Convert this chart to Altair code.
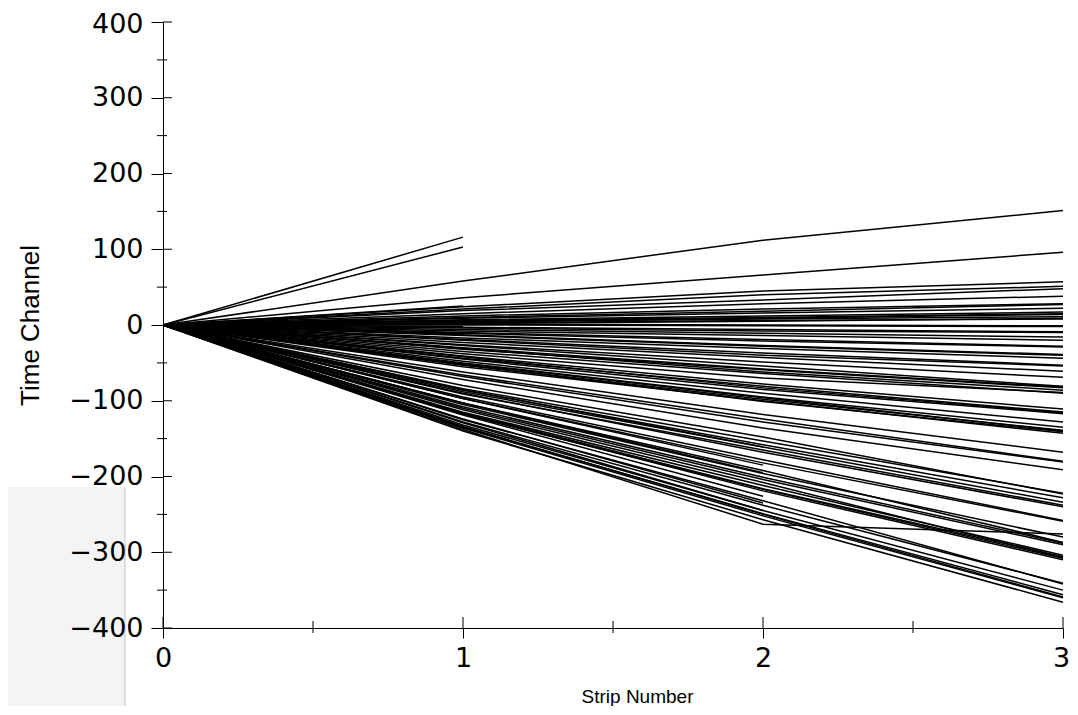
import altair as alt
import pandas as pd

# Strip positions
strips = [0, 1, 2, 3]

# Tracks reaching strip 3: time channel at strips 1, 2, 3 (strip 0 is 0)
full_t1 = [58, 36, 24, 21, 19, 15, 12, 9, 7, 6, 4, 3, 1, -3, -6, -8, -11, -14, -17, -19,
           -23, -26, -30, -32, -31, -35, -41, -44, -42, -48, -50, -53, -52, -55, -62, -68,
           -72, -84, -86, -88, -91, -90, -97, -138, -105, -108, -110, -115, -116, -118,
           -117, -128, -132, -135, -136, -140,
           10, 5, 2, 0, -4, -10, -13, -20, -27, -38, -45, -51, -66, -80, -95, -103, -112,
           -125, -134]
full_t2 = [112, 66, 45, 40, 33, 28, 21, 16, 12, 10, 8, 6, 0, -6, -11, -14, -21, -28, -31, -37,
           -43, -49, -58, -59, -62, -64, -78, -81, -83, -90, -95, -98, -101, -100, -118, -128,
           -136, -153, -158, -161, -165, -168, -182, -263, -196, -201, -204, -212, -216, -217,
           -219, -238, -245, -249, -252, -257,
           18, 9, 5, -1, -8, -19, -27, -40, -54, -70, -85, -96, -124, -148, -178, -192, -208,
           -232, -250]
full_t3 = [151, 96, 57, 51, 48, 38, 28, 22, 17, 15, 11, 8, -1, -9, -16, -20, -29, -40, -44, -53,
           -61, -69, -82, -83, -86, -90, -111, -115, -116, -128, -135, -139, -141, -143, -168, -181,
           -191, -222, -228, -234, -238, -240, -259, -276, -280, -288, -290, -304, -306, -308,
           -310, -341, -350, -356, -360, -366,
           27, 14, 9, -2, -10, -28, -39, -54, -81, -89, -117, -140, -180, -223, -258, -287, -307,
           -342, -359]

# Tracks stopping at strip 2
end2_t1 = [-85, -97, -103, -119, -124, -129]
end2_t2 = [-161, -185, -195, -226, -235, -245]

# Tracks stopping at strip 1
end1_t1 = [116, 103, 25, -2, -12]

# Axis ticks
y_major = [-400, -300, -200, -100, 0, 100, 200, 300, 400]
y_minor = [-350, -250, -150, -50, 50, 150, 250, 350]
x_major = [0, 1, 2, 3]
x_minor = [0.5, 1.5, 2.5]

rows = []
tid = 0
for a, b, c in zip(full_t1, full_t2, full_t3):
    for s, t in zip(strips, [0, a, b, c]):
        rows.append({"id": tid, "strip": s, "time": t})
    tid += 1
for a, b in zip(end2_t1, end2_t2):
    for s, t in zip(strips[:3], [0, a, b]):
        rows.append({"id": tid, "strip": s, "time": t})
    tid += 1
for a in end1_t1:
    for s, t in zip(strips[:2], [0, a]):
        rows.append({"id": tid, "strip": s, "time": t})
    tid += 1
df = pd.DataFrame(rows)

xscale = alt.Scale(domain=[0, 3], nice=False, zero=False)
yscale = alt.Scale(domain=[-400, 400], nice=False, zero=False)

common_axis = dict(
    grid=False, domainColor="black", domainWidth=1, tickColor="black", tickWidth=1,
    labelFont="DejaVu Sans", labelFontSize=27, labelColor="black",
    labelFlush=False, labelOverlap=False, labelBound=False,
    titleFont="Liberation Sans", titleFontWeight="normal", titleColor="black", zindex=1,
)
xaxis = alt.Axis(values=x_major, format="d", tickSize=10, labelPadding=7,
                 labelOffset={"condition": {"test": "datum.value == 3", "value": -2}, "value": 0},
                 title="Strip Number", titleFontSize=19, titleX=474, titleY=74,
                 titleBaseline="alphabetic", **common_axis)
yaxis = alt.Axis(values=y_major, format="d", tickSize=12, labelPadding=8,
                 labelOffset={"condition": {"test": "datum.value == 400", "value": 2}, "value": 0},
                 title="Time Channel", titleFontSize=26, titleX=-120, **common_axis)

lines = alt.Chart(df).mark_line(color="black", strokeWidth=1.5).encode(
    x=alt.X("strip:Q", scale=xscale, axis=xaxis),
    y=alt.Y("time:Q", scale=yscale, axis=yaxis),
    detail="id:N",
    order="strip:Q",
)

one = pd.DataFrame({"k": [0]})
box = alt.Chart(one).mark_rect(color="#f4f4f4").encode(
    x=alt.value(-155), x2=alt.value(-38), y=alt.value(465), y2=alt.value(700)
)
box_edge = alt.Chart(one).mark_rule(color="#d6d6d6", strokeWidth=1.5).encode(
    x=alt.value(-38), y=alt.value(465), y2=alt.value(700)
)

ymaj_in = alt.Chart(pd.DataFrame({"time": y_major})).mark_rule(color="black").encode(
    y=alt.Y("time:Q", scale=yscale, axis=yaxis), x=alt.value(0), x2=alt.value(9)
)
ymin = alt.Chart(pd.DataFrame({"time": y_minor})).mark_rule(color="black").encode(
    y=alt.Y("time:Q", scale=yscale, axis=yaxis), x=alt.value(-6), x2=alt.value(4)
)
xmaj_in = alt.Chart(pd.DataFrame({"strip": x_major})).mark_rule(color="black").encode(
    x=alt.X("strip:Q", scale=xscale, axis=xaxis), y=alt.value(606), y2=alt.value(595)
)
xmin = alt.Chart(pd.DataFrame({"strip": x_minor})).mark_rule(color="black").encode(
    x=alt.X("strip:Q", scale=xscale, axis=xaxis), y=alt.value(611), y2=alt.value(599)
)

chart = alt.layer(box, box_edge, lines, ymaj_in, ymin, xmaj_in, xmin).properties(
    width=900, height=606,
    autosize=alt.AutoSizeParams(type="none"),
    padding={"left": 155, "top": 14, "right": 7, "bottom": 78},
    background="white",
).configure_view(stroke=None)

chart.save("out.html", embed_options={"renderer": "svg", "actions": False})
